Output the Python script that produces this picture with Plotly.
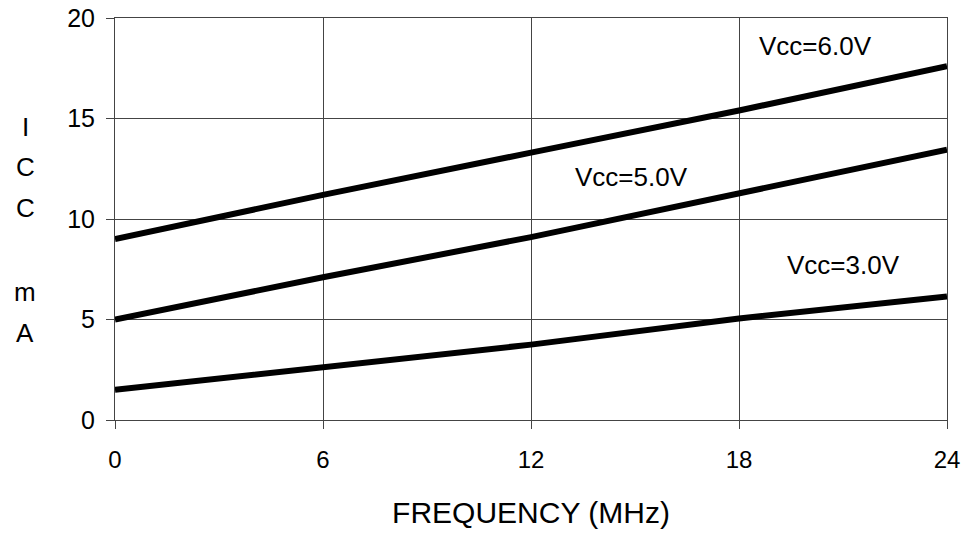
import plotly.graph_objects as go

freq = [0, 6, 12, 18, 24]
icc_6v = [9.0, 11.2, 13.3, 15.4, 17.6]
icc_5v = [5.0, 7.1, 9.1, 11.3, 13.45]
icc_3v = [1.5, 2.65, 3.75, 5.05, 6.15]

series = [("Vcc=6.0V", icc_6v, 20.2, 18.6),
          ("Vcc=5.0V", icc_5v, 14.9, 12.1),
          ("Vcc=3.0V", icc_3v, 21.0, 7.7)]

x_ticks = [0, 6, 12, 18, 24]
y_ticks = [0, 5, 10, 15, 20]
y_title_letters = ["I", "C", "C", "", "m", "A"]

FONT = "Liberation Sans, Arial, sans-serif"

fig = go.Figure()
for name, vals, lx, ly in series:
    fig.add_trace(go.Scatter(x=freq, y=vals, mode="lines", name=name,
                             line=dict(color="black", width=6),
                             showlegend=False, hoverinfo="skip"))
    fig.add_annotation(x=lx, y=ly, text=name, showarrow=False,
                       font=dict(family=FONT, size=26, color="black"))

# stacked y-axis title letters
ys = [127, 167, 208, 250, 292, 333]
for letter, ypx in zip(y_title_letters, ys):
    if letter:
        fig.add_annotation(xref="paper", yref="paper",
                           x=(25 - 115) / 832, y=(420 - ypx) / 402,
                           xanchor="center", yanchor="middle",
                           text=letter, showarrow=False,
                           font=dict(family=FONT, size=26, color="black"))

fig.update_layout(
    width=968, height=535,
    margin=dict(l=115, r=21, t=18, b=115),
    paper_bgcolor="white", plot_bgcolor="white",
    font=dict(family=FONT, color="black"),
)
fig.update_xaxes(range=[0, 24], tickvals=x_ticks, ticktext=[str(v) for v in x_ticks],
                 automargin=False,
                 showgrid=True, gridcolor="#444", gridwidth=1,
                 zeroline=False, showline=True, linecolor="#444", mirror=True,
                 ticks="outside", ticklen=8, tickcolor="#444",
                 ticklabelstandoff=10,
                 tickfont=dict(size=24, family=FONT),
                 title=dict(text="FREQUENCY (MHz)", font=dict(size=30, family=FONT), standoff=30))
fig.update_yaxes(range=[0, 20], tickvals=y_ticks,
                 automargin=False,
                 showgrid=True, gridcolor="#444", gridwidth=1,
                 zeroline=False, showline=True, linecolor="#444", mirror=True,
                 ticks="outside", ticklen=8, tickcolor="#444",
                 ticklabelstandoff=6,
                 tickfont=dict(size=25, family=FONT))

fig.write_html("out.html", config={"displayModeBar": False},
               post_script="document.body.style.margin='0';")
